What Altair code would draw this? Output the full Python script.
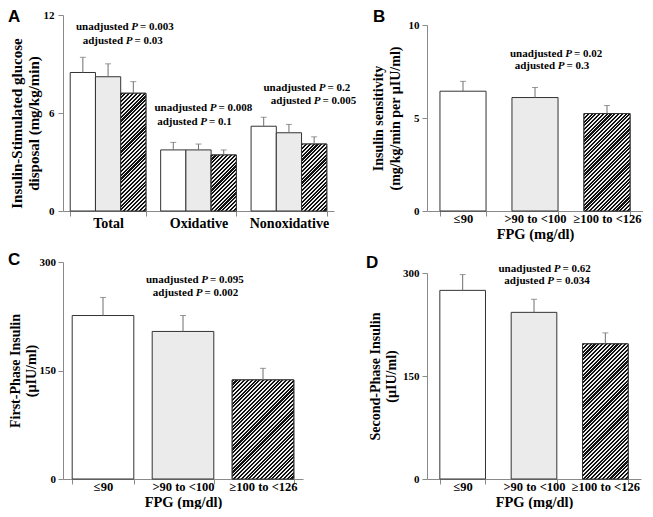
import altair as alt
import pandas as pd

# ---------------- data ----------------
GROUPS = ["≤90", ">90 to <100", "≥100 to <126"]
A_CATS = ["Total", "Oxidative", "Nonoxidative"]
A_TOTAL = [8.48, 8.22, 7.21]
A_TOTAL_SE = [0.93, 0.79, 0.71]
A_OX = [3.74, 3.74, 3.43]
A_OX_SE = [0.46, 0.36, 0.31]
A_NONOX = [5.19, 4.79, 4.10]
A_NONOX_SE = [0.55, 0.51, 0.44]
B_VALS = [6.44, 6.10, 5.24]
B_SE = [0.53, 0.54, 0.43]
C_VALS = [226, 204, 137]
C_SE = [25, 22, 16]
D_VALS = [274.7, 242.7, 196.8]
D_SE = [23, 19, 16]
P_A = [("0.003", "0.03"), ("0.008", "0.1"), ("0.2", "0.005")]
P_B = ("0.02", "0.3")
P_C = ("0.095", "0.002")
P_D = ("0.62", "0.034")

# ---------------- styles ----------------
FILLS = ["#ffffff", "#ebebeb", "#6a6a6a"]
SERIF = "Liberation Serif"
SANS = "Liberation Sans"
AXGRAY = "#8a8a8a"
ERRGRAY = "#6f6f6f"

fill_enc = alt.Fill("grp:N", scale=alt.Scale(domain=GROUPS, range=FILLS), legend=None)


def frame(cats, groups, means, ses):
    df = pd.DataFrame({"cat": cats, "grp": groups, "mean": means, "se": ses})
    df["upper"] = df["mean"] + df["se"]
    return df


dfA = frame([c for c in A_CATS for _ in GROUPS], GROUPS * 3,
            A_TOTAL + A_OX + A_NONOX, A_TOTAL_SE + A_OX_SE + A_NONOX_SE)
dfB = frame(GROUPS, GROUPS, B_VALS, B_SE)
dfC = frame(GROUPS, GROUPS, C_VALS, C_SE)
dfD = frame(GROUPS, GROUPS, D_VALS, D_SE)


def hatch(w, h, spacing=2.7, dark="#111111", light="#efefef", frac=0.55):
    """45-degree '/' stripes as a hard-stop linear gradient for a w x h bar."""
    s = (1 / h + 1 / w) / (1 / h ** 2 + 1 / w ** 2)
    p, q = s / h, s / w
    n = max(1, round((w + h) / (spacing * 2 ** 0.5)))
    stops = []
    for i in range(n):
        a, b, c = i / n, (i + frac) / n, (i + 1) / n
        stops += [alt.GradientStop(color=dark, offset=a), alt.GradientStop(color=dark, offset=b),
                  alt.GradientStop(color=light, offset=b), alt.GradientStop(color=light, offset=c)]
    return alt.LinearGradient(gradient="linear", stops=stops, x1=0, y1=0, x2=p, y2=q)


def one_text(s, **style):
    return alt.Chart(pd.DataFrame({"s": [s]})).mark_text(color="black", **style)


def txt(s, px, yv, align, italic=False, size=11):
    return one_text(
        s, align=align, baseline="middle", font=SERIF, fontSize=size,
        fontWeight="bold", fontStyle="italic" if italic else "normal",
    ).encode(x=alt.value(px), y=alt.datum(yv), text="s:N")


def annotation(lines):
    layers = []
    for lead, pval, px, yv in lines:
        layers += [
            txt(lead, px - 6, yv, "right"),
            txt("P", px, yv, "center", italic=True),
            txt("= " + pval, px + 5.5, yv, "left"),
        ]
    return layers


def letter(s, x, y):
    return one_text(s, align="left", baseline="top", font=SANS, fontSize=17,
                    fontWeight="bold").encode(x=alt.value(x), y=alt.value(y), text="s:N")


def panel(df, xenc, yenc, hatches, extra, width, height, offset=None):
    enc = dict(x=xenc)
    if offset is not None:
        enc["xOffset"] = offset
    base = alt.Chart(df).encode(**enc)
    bars = base.mark_bar(stroke="#333333", strokeWidth=1).encode(y=yenc, fill=fill_enc)
    hl = []
    for cond, grad in hatches:
        hl.append(base.transform_filter(cond).mark_bar(
            fill=grad, stroke="#333333", strokeWidth=1).encode(y="mean:Q"))
    err = base.mark_rule(color=ERRGRAY, strokeWidth=1).encode(y="mean:Q", y2="upper:Q")
    cap = base.mark_tick(color=ERRGRAY, size=6, thickness=1).encode(y="upper:Q")
    return alt.layer(bars, *hl, err, cap, *extra).properties(width=width, height=height)


HATCHED = alt.datum.grp == GROUPS[2]

# ---- Panel A ----
A_W, A_H = 271, 196
a_step = A_W / (3 - 0.163 + 2 * 0.08)
a_barw = a_step * (1 - 0.163) / 3
xA = alt.X("cat:N", sort=A_CATS,
           scale=alt.Scale(paddingInner=0.163, paddingOuter=0.08),
           axis=alt.Axis(title=None, labelAngle=0, labelFontSize=14,
                         tickBand="extent", labelPadding=0))
oA = alt.XOffset("grp:N", sort=GROUPS, scale=alt.Scale(paddingInner=0, paddingOuter=0))
yA = alt.Y("mean:Q", scale=alt.Scale(domain=[0, 12]),
           axis=alt.Axis(values=[0, 6, 12],
                         title=["Insulin-Stimulated glucose", "disposal (mg/kg/min)"],
                         titleFontSize=15, titleLineHeight=17, titlePadding=2,
                         titleY=108, labelPadding=4, tickSize=5))
hatchA = [((alt.datum.cat == c) & HATCHED, hatch(a_barw, v[2] * A_H / 12))
          for c, v in zip(A_CATS, [A_TOTAL, A_OX, A_NONOX])]
annA = annotation([
    ("unadjusted", P_A[0][0], 71.5, 11.29), ("adjusted", P_A[0][1], 66, 10.43),
    ("unadjusted", P_A[1][0], 150, 6.30), ("adjusted", P_A[1][1], 140.5, 5.47),
    ("unadjusted", P_A[2][0], 259, 7.52), ("adjusted", P_A[2][1], 254, 6.74),
])
pA = panel(dfA, xA, yA, hatchA, annA + [letter("A", -55, -6)], A_W, A_H, offset=oA)


def fpg_x(rng=None, pin=0.36, pout=0.18):
    if rng is not None:
        sc = alt.Scale(paddingInner=pin, paddingOuter=pout, range=rng)
    else:
        sc = alt.Scale(paddingInner=pin, paddingOuter=pout)
    return alt.X("grp:N", sort=GROUPS, scale=sc,
                 axis=alt.Axis(title="FPG (mg/dl)", labelAngle=0, labelFontSize=12.5,
                               titleFontSize=14.5, tickBand="extent",
                               labelPadding=-4, titlePadding=3))


# ---- Panel B ----
B_W, B_H = 216, 196
yB = alt.Y("mean:Q", scale=alt.Scale(domain=[0, 10], range=[B_H, 10]),
           axis=alt.Axis(values=[0, 5, 10],
                         title=["Insulin sensitivity", "(mg/kg/min per µIU/ml)"],
                         titleFontSize=14, titleLineHeight=17, titlePadding=6,
                         labelPadding=3, tickSize=5))
hatchB = [(HATCHED, hatch(B_W / 3 * 0.64, B_VALS[2] * (B_H - 10) / 10))]
annB = annotation([("unadjusted", P_B[0], 141.5, 8.45), ("adjusted", P_B[1], 134, 7.80)])
pB = panel(dfB, fpg_x(), yB, hatchB, annB + [letter("B", -54, -6)], B_W, B_H)

# ---- Panel C ----
C_W, C_H, C_R = 276, 217, 240
yC = alt.Y("mean:Q", scale=alt.Scale(domain=[0, 300]),
           axis=alt.Axis(values=[0, 150, 300],
                         title=["First-Phase Insulin", "(µIU/ml)"],
                         titleFontSize=14, titleLineHeight=16, titlePadding=1,
                         labelPadding=2.5, tickSize=5))
hatchC = [(HATCHED, hatch(C_R / 3 * 0.77, C_VALS[2] * C_H / 300))]
annC = annotation([("unadjusted", P_C[0], 141.5, 274.7), ("adjusted", P_C[1], 136, 257.2)])
pC = panel(dfC, fpg_x(rng=[0, C_R], pin=0.23, pout=0.115), yC, hatchC,
           annC + [letter("C", -55, -10)], C_W, C_H)

# ---- Panel D ----
D_W, D_H = 214, 217
yD = alt.Y("mean:Q", scale=alt.Scale(domain=[0, 300], range=[D_H, 11]),
           axis=alt.Axis(values=[0, 150, 300],
                         title=["Second-Phase Insulin", "(µIU/ml)"],
                         titleFontSize=14, titleLineHeight=16, titlePadding=4,
                         labelPadding=3, tickSize=5))
hatchD = [(HATCHED, hatch(D_W / 3 * 0.64, D_VALS[2] * (D_H - 11) / 300))]
annD = annotation([("unadjusted", P_D[0], 130, 306), ("adjusted", P_D[1], 123.5, 288)])
pD = panel(dfD, fpg_x(), yD, hatchD, annD + [letter("D", -61, -7)], D_W, D_H)

chart = alt.concat(
    pA, pB, pC, pD, columns=2, bounds="flush", align="none",
    spacing=alt.RowColnumber(row=51, column=88),
).properties(padding=0).configure_view(stroke=None).configure_axis(
    domainColor=AXGRAY, tickColor=AXGRAY, grid=False,
    labelFont=SERIF, labelFontWeight="bold", labelColor="black", labelFontSize=11,
    titleFont=SERIF, titleFontWeight="bold", titleColor="black",
)

chart.save("out.html", embed_options={"renderer": "svg", "actions": False})
